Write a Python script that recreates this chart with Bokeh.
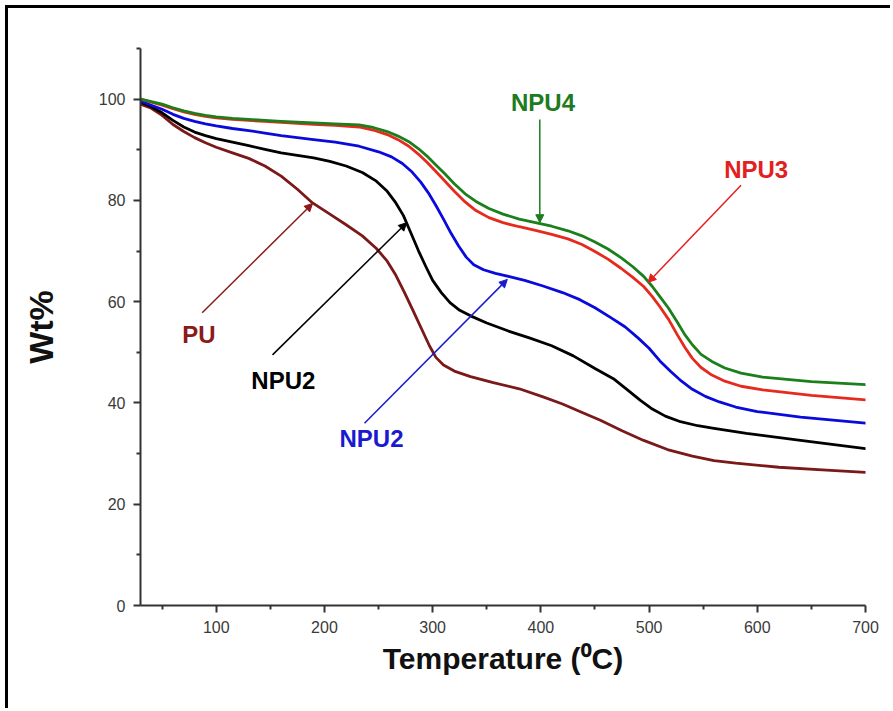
from bokeh.plotting import figure
from bokeh.models import FixedTicker, Arrow, NormalHead, Label
from bokeh.embed import file_html
from bokeh.resources import INLINE

# ---- data ----
temp_pu = [30, 40, 50, 60, 70, 80, 90, 100, 115, 130, 145, 160, 175, 189, 205, 220, 235, 248, 258, 266, 274, 282, 290, 297, 303, 310, 320, 335, 356, 380, 402, 420, 436, 455, 475, 495, 517, 540, 560, 580, 620, 660, 700]
wt_pu = [99, 98.2, 96.8, 95, 93.6, 92.4, 91.4, 90.5, 89.4, 88.3, 86.8, 84.8, 82.2, 79.5, 77.3, 75.2, 73, 70.5, 68, 65.2, 61.8, 58.2, 54.5, 51.3, 49, 47.5, 46.3, 45.2, 44, 42.8, 41.2, 39.8, 38.3, 36.6, 34.5, 32.6, 30.8, 29.5, 28.6, 28.1, 27.3, 26.8, 26.3]

temp_npu2 = [30, 40, 50, 60, 70, 80, 90, 100, 115, 130, 145, 160, 175, 190, 205, 220, 235, 248, 258, 266, 273, 280, 287, 294, 300, 308, 316, 325, 335, 350, 370, 390, 410, 430, 450, 467, 480, 492, 503, 515, 529, 545, 560, 590, 640, 700]
wt_npu2 = [99.4, 98.5, 97.3, 95.8, 94.5, 93.5, 92.8, 92.2, 91.5, 90.8, 90.1, 89.4, 88.9, 88.4, 87.7, 86.8, 85.5, 83.8, 81.8, 79.5, 77, 73.5, 70, 66.8, 64.2, 61.8, 59.8, 58.3, 57.2, 55.8, 54.2, 52.8, 51.3, 49.3, 46.8, 44.8, 42.6, 40.5, 38.8, 37.4, 36.3, 35.5, 35, 34, 32.6, 31]

temp_npu2b = [30, 40, 50, 60, 70, 80, 90, 100, 115, 130, 145, 160, 175, 190, 210, 232, 250, 262, 272, 281, 289, 296, 303, 310, 317, 324, 331, 338, 347, 358, 370, 385, 402, 420, 436, 450, 465, 478, 490, 500, 510, 520, 530, 540, 552, 565, 580, 600, 640, 700]
wt_npu2b = [99.6, 98.8, 98, 97, 96.2, 95.6, 95.1, 94.7, 94.2, 93.8, 93.3, 92.8, 92.4, 92, 91.5, 90.7, 89.6, 88.6, 87.3, 85.6, 83.6, 81.5, 79, 76.3, 73.5, 71, 68.8, 67.3, 66.3, 65.6, 65, 64.2, 63.1, 61.8, 60.4, 58.8, 56.8, 55, 52.8, 50.8, 48.3, 46.2, 44.3, 42.7, 41.3, 40.2, 39.2, 38.3, 37.2, 36]

temp_npu3 = [30, 40, 50, 60, 70, 80, 90, 100, 115, 130, 145, 160, 190, 210, 232, 245, 258, 268, 278, 287, 295, 303, 311, 320, 330, 340, 352, 365, 380, 395, 410, 425, 438, 450, 462, 474, 485, 495, 503, 510, 518, 526, 533, 540, 548, 558, 570, 585, 605, 650, 700]
wt_npu3 = [100, 99.4, 98.8, 98.1, 97.5, 97, 96.6, 96.3, 96, 95.8, 95.6, 95.4, 95, 94.8, 94.5, 93.9, 93, 92, 90.7, 89.1, 87.5, 85.7, 83.9, 81.8, 79.7, 78, 76.6, 75.6, 74.8, 74.1, 73.3, 72.4, 71.3, 69.9, 68.4, 66.6, 64.8, 63, 61, 59, 56.5, 53.5, 51, 48.8, 47, 45.5, 44.3, 43.3, 42.6, 41.5, 40.6]

temp_npu4 = [30, 40, 50, 60, 70, 80, 90, 100, 115, 130, 145, 160, 190, 210, 232, 245, 258, 268, 278, 287, 295, 303, 311, 320, 330, 340, 352, 365, 380, 395, 410, 425, 438, 450, 462, 474, 485, 495, 503, 510, 518, 526, 533, 540, 548, 558, 570, 585, 605, 650, 700]
wt_npu4 = [100, 99.5, 99, 98.3, 97.7, 97.2, 96.8, 96.5, 96.2, 96, 95.8, 95.6, 95.3, 95.1, 94.9, 94.4, 93.6, 92.7, 91.6, 90.2, 88.7, 87, 85.3, 83.3, 81.3, 79.8, 78.4, 77.3, 76.3, 75.6, 74.9, 74, 73, 71.8, 70.4, 68.7, 66.9, 65, 63, 61, 58.7, 56, 53.5, 51.5, 49.6, 48.2, 46.9, 45.9, 45.1, 44.2, 43.6]

x_major = [100, 200, 300, 400, 500, 600, 700]
x_minor = [50, 150, 250, 350, 450, 550, 650]
y_major = [0, 20, 40, 60, 80, 100]
y_minor = [10, 30, 50, 70, 90, 110]

FONT = "Liberation Sans"

p = figure(width=885, height=703, x_range=(30, 700), y_range=(0, 110),
           output_backend="svg", toolbar_location=None,
           min_border_left=132, min_border_right=28, min_border_top=40, min_border_bottom=106)
p.styles = {"margin-left": "5px", "margin-top": "5px",
            "border-left": "3px solid black", "border-top": "3px solid black"}
p.outline_line_color = None
p.xgrid.visible = False
p.ygrid.visible = False
p.background_fill_color = "white"
p.border_fill_color = "white"

p.xaxis.ticker = FixedTicker(ticks=x_major, minor_ticks=x_minor)
p.yaxis.ticker = FixedTicker(ticks=y_major, minor_ticks=y_minor)
for ax in (p.xaxis, p.yaxis):
    ax.axis_line_color = "#333333"
    ax.axis_line_width = 2
    ax.major_tick_line_color = "#333333"
    ax.minor_tick_line_color = "#333333"
    ax.major_tick_line_width = 2
    ax.minor_tick_line_width = 2
    ax.major_tick_out = 7
    ax.major_tick_in = 0
    ax.minor_tick_out = 4
    ax.minor_tick_in = 0
    ax.major_label_text_font = FONT
    ax.major_label_text_font_size = "16px"
    ax.major_label_text_color = "#3a3a3a"
    ax.major_label_standoff = 8
    ax.axis_label_text_font = FONT
    ax.axis_label_text_font_style = "bold"
    ax.axis_label_text_color = "#111111"

p.xaxis.axis_label = "Temperature (\u2070C)"
p.xaxis.axis_label_text_font_size = "30px"
p.xaxis.axis_label_standoff = 6
p.yaxis.axis_label = "Wt%"
p.yaxis.axis_label_text_font_size = "34px"
p.yaxis.axis_label_standoff = 36

series = [
    (temp_pu, wt_pu, "#7B1818"),
    (temp_npu2, wt_npu2, "#000000"),
    (temp_npu2b, wt_npu2b, "#0A0ADC"),
    (temp_npu3, wt_npu3, "#E62A1E"),
    (temp_npu4, wt_npu4, "#1B7F1B"),
]
for xs, ys, c in series:
    p.line(xs, ys, line_color=c, line_width=2.8, line_join="round", line_cap="round")

# annotations: (text, color, text x, text y, arrow start x, y, arrow end x, y)
notes = [
    ("NPU4", "#1E7B1E", 402, 99.4, 399, 96.0, 399, 75.6),
    ("NPU3", "#E32020", 599, 86.1, 585, 83.0, 499, 63.8),
    ("PU", "#8B1A1A", 84, 53.5, 87, 57.8, 189, 79.4),
    ("NPU2", "#000000", 162, 44.4, 152, 49.5, 276, 75.6),
    ("NPU2", "#1A1AD0", 243.5, 33.0, 237, 36.0, 369, 64.4),
]
for txt, c, tx, ty, x0, y0, x1, y1 in notes:
    p.add_layout(Arrow(x_start=x0, y_start=y0, x_end=x1, y_end=y1,
                       line_color=c, line_width=1.5,
                       end=NormalHead(size=8, fill_color=c, line_color=c, line_width=1)))
    p.add_layout(Label(x=tx, y=ty, text=txt, text_color=c, text_font=FONT,
                       text_font_style="bold", text_font_size="24px",
                       text_align="center", text_baseline="middle"))

open("out.html", "w").write(file_html(p, INLINE))
